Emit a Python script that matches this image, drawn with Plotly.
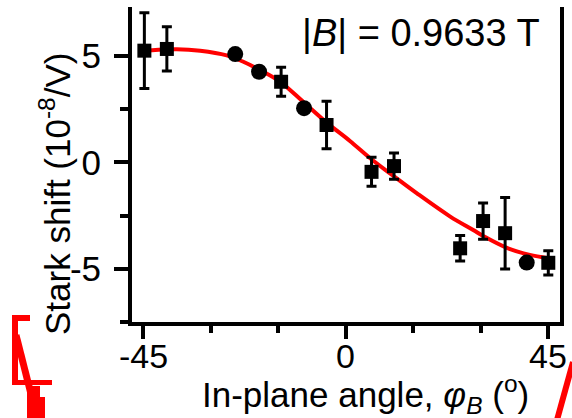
import plotly.graph_objects as go

# ---- data ----
sq_x = [-44.8, -39.8, -14.4, -4.3, 5.7, 10.7, 25.4, 30.5, 35.4, 45.0]
sq_y = [5.24, 5.32, 3.78, 1.75, -0.45, -0.18, -4.04, -2.76, -3.33, -4.72]
sq_err = [1.78, 1.04, 0.68, 1.12, 0.68, 0.62, 0.60, 0.85, 1.68, 0.57]

circ_x = [-24.6, -19.3, -9.3, 40.2]
circ_y = [5.08, 4.25, 2.54, -4.71]

fit_x = [-44.8, -43.1, -37.6, -32.4, -26.5, -22.8, -19.1, -14.6, -9.4, -4.2,
         0.9, 5.4, 9.8, 15.8, 23.2, 28.3, 30.6, 35.8, 40.9, 45.0]
fit_y = [5.22, 5.26, 5.31, 5.24, 5.02, 4.72, 4.33, 3.78, 2.82, 1.85,
         1.00, 0.19, -0.52, -1.46, -2.55, -3.18, -3.47, -4.02, -4.35, -4.50]

x_major = [-45, 0, 45]
x_labels = ["-45", "0", "45"]
x_minor = [-30, -15, 15, 30]
y_major = [-5, 0, 5]
y_labels = ["-5", "0", "5"]
y_minor = [-7.5, -2.5, 2.5]

x_range = [-47.55, 47.6]
y_range = [-7.5, 7.29]

FONT = "Liberation Sans, Arial, sans-serif"
W, H = 572, 418
ML, MR, MT, MB = 132, 12, 7, 96
PW, PH = W - ML - MR, H - MT - MB


def px(x):
    return (x - ML) / PW


def py(y):
    return (H - MB - y) / PH


fig = go.Figure()

fig.add_trace(go.Scatter(x=fit_x, y=fit_y, mode="lines",
                         line=dict(color="#ff0000", width=4, shape="spline"),
                         hoverinfo="skip", showlegend=False))

fig.add_trace(go.Scatter(x=sq_x, y=sq_y, mode="markers",
                         marker=dict(symbol="square", size=14, color="black"),
                         error_y=dict(type="data", array=sq_err, visible=True,
                                      color="black", thickness=3, width=5),
                         showlegend=False))

fig.add_trace(go.Scatter(x=circ_x, y=circ_y, mode="markers",
                         marker=dict(symbol="circle", size=16, color="black"),
                         showlegend=False))

axis_common = dict(showgrid=False, zeroline=False, showline=True,
                   linecolor="black", linewidth=4, ticks="outside",
                   tickwidth=4, tickcolor="black",
                   tickfont=dict(family=FONT, size=35, color="black"))

fig.update_xaxes(range=x_range, tickmode="array", tickvals=x_major,
                 ticktext=x_labels, ticklen=13, showticklabels=False,
                 minor=dict(tickmode="array", tickvals=x_minor, ticklen=7,
                            tickwidth=4, tickcolor="black", ticks="outside"),
                 **axis_common)
fig.update_yaxes(range=y_range, tickmode="array", tickvals=y_major,
                 ticktext=y_labels, ticklen=14,
                 mirror=True,
                 minor=dict(tickmode="array", tickvals=y_minor, ticklen=8,
                            tickwidth=4, tickcolor="black", ticks="outside"),
                 ticklabelstandoff=6,
                 **axis_common)

annotations = [
    dict(text="|<i>B</i>| = 0.9633 T", x=px(421), y=py(33), xref="paper",
         yref="paper", showarrow=False, xanchor="center", yanchor="middle",
         font=dict(family=FONT, size=38, color="black")),
    dict(text="In-plane angle, <i>φ<sub>B</sub></i> (<sup>o</sup>)",
         x=px(365), y=py(394), xref="paper", yref="paper", showarrow=False,
         xanchor="center", yanchor="middle",
         font=dict(family=FONT, size=35, color="black")),
    dict(text="Stark shift (10<sup>-8</sup>/V)", x=px(55), y=py(194),
         xref="paper", yref="paper", showarrow=False, textangle=-90,
         xanchor="center", yanchor="middle",
         font=dict(family=FONT, size=35, color="black")),
]
for v, t in zip(x_major, x_labels):
    annotations.append(dict(text=t, x=v, y=py(356), xref="x", yref="paper",
                            showarrow=False, xanchor="center",
                            yanchor="middle",
                            font=dict(family=FONT, size=34, color="black")))

RED = "#ff0000"
shapes = [
    dict(type="rect", x0=px(12), x1=px(30), y0=py(315), y1=py(321)),
    dict(type="rect", x0=px(12), x1=px(18), y0=py(315), y1=py(384)),
    dict(type="rect", x0=px(12), x1=px(52), y0=py(380), y1=py(385)),
    dict(type="rect", x0=px(27), x1=px(40), y0=py(386), y1=py(398)),
    dict(type="rect", x0=px(27), x1=px(45), y0=py(397), y1=py(420)),
]
for s in shapes:
    s.update(xref="paper", yref="paper", fillcolor=RED, line=dict(width=0),
             layer="above")
shapes += [
    dict(type="line", xref="paper", yref="paper", x0=px(16), y0=py(335),
         x1=px(32), y1=py(398), line=dict(color=RED, width=7)),
    dict(type="line", xref="paper", yref="paper", x0=px(557), y0=py(420),
         x1=px(573), y1=py(362), line=dict(color=RED, width=6)),
]

fig.update_layout(width=W, height=H,
                  margin=dict(l=ML, r=MR, t=MT, b=MB, autoexpand=False),
                  paper_bgcolor="white", plot_bgcolor="white",
                  annotations=annotations, shapes=shapes,
                  font=dict(family=FONT, color="black"))

fig.write_html("out.html")
